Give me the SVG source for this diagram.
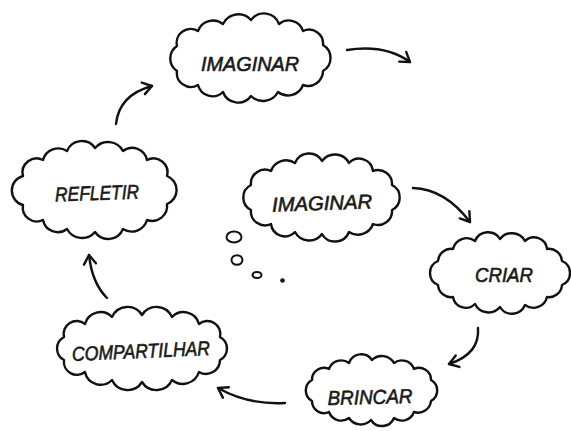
<svg xmlns="http://www.w3.org/2000/svg" width="571" height="431" viewBox="0 0 571 431">
<style>
.cloud{fill:#fff;stroke:#111;stroke-width:2.4;stroke-linejoin:round}
.lbl{font-family:"Liberation Sans",Arial,sans-serif;font-style:italic;font-size:20px;fill:#1a1a1a;stroke:#1a1a1a;stroke-width:0.6;text-anchor:middle}
.conn{fill:none;stroke:#111;stroke-width:2.4;stroke-linecap:round}
.bub{fill:#fff;stroke:#111;stroke-width:2}
</style>
<defs>
<marker id="ah" viewBox="-11 -8 13 16" refX="0" refY="0" markerWidth="13" markerHeight="16" markerUnits="userSpaceOnUse" orient="auto">
<path d="M-9,-6 L0,0 L-9,6" fill="none" stroke="#111" stroke-width="2.4" stroke-linecap="round" stroke-linejoin="round"/>
</marker>
</defs>
<rect width="571" height="431" fill="#fff"/>
<g id="connectors">
<path class="conn" d="M347,50 Q385,44 410,62" marker-end="url(#ah)"/>
<path class="conn" d="M413,188 Q445,189 470,222" marker-end="url(#ah)"/>
<path class="conn" d="M478,328 Q480,354 449,364" marker-end="url(#ah)"/>
<path class="conn" d="M285,403 Q248,405 218,388" marker-end="url(#ah)"/>
<path class="conn" d="M107,298 Q92,283 89,255" marker-end="url(#ah)"/>
<path class="conn" d="M116,124 Q119,95 152,86" marker-end="url(#ah)"/>
</g>
<g id="imaginar-top">
<path class="cloud" d="M323,71 A15,15 0 0 1 303,85 A16,16 0 0 1 278,92 A17,17 0 0 1 251,96 A16,16 0 0 1 223,92 A15,15 0 0 1 198,85 A14,14 0 0 1 177,71 A15,15 0 0 1 177,46 A14,14 0 0 1 198,31 A16,16 0 0 1 223,24 A17,17 0 0 1 251,20 A16,16 0 0 1 279,24 A15,15 0 0 1 303,31 A14,14 0 0 1 323,45 A15,15 0 0 1 323,71 Z"/>
<text class="lbl" x="250" y="71" textLength="98" lengthAdjust="spacingAndGlyphs">IMAGINAR</text>
</g>
<g id="refletir">
<path class="cloud" d="M167,204 A15,15 0 0 1 147,220 A16,16 0 0 1 123,229 A16,16 0 0 1 95,232 A17,17 0 0 1 67,229 A15,15 0 0 1 43,220 A14,14 0 0 1 23,205 A15,15 0 0 1 23,176 A14,14 0 0 1 43,160 A16,16 0 0 1 67,151 A16,16 0 0 1 95,148 A17,17 0 0 1 123,151 A15,15 0 0 1 147,160 A14,14 0 0 1 167,176 A15,15 0 0 1 167,204 Z"/>
<text class="lbl" x="97" y="200" textLength="84" lengthAdjust="spacingAndGlyphs" transform="rotate(-2 97 192)">REFLETIR</text>
</g>
<g id="imaginar-mid">
<path class="cloud" d="M392,210 A14,14 0 0 1 373,224 A16,16 0 0 1 349,232 A15,15 0 0 1 322,234 A16,16 0 0 1 295,232 A14,14 0 0 1 271,224 A14,14 0 0 1 251,210 A14,14 0 0 1 251,185 A14,14 0 0 1 271,171 A16,16 0 0 1 295,163 A15,15 0 0 1 322,161 A16,16 0 0 1 349,163 A14,14 0 0 1 373,171 A14,14 0 0 1 392,185 A14,14 0 0 1 392,210 Z"/>
<text class="lbl" x="322" y="210" textLength="100" lengthAdjust="spacingAndGlyphs" transform="rotate(-2 322 202)">IMAGINAR</text>
</g>
<g id="thought-bubbles">
<ellipse class="bub" cx="234" cy="237" rx="7.5" ry="5.5"/>
<ellipse class="bub" cx="237" cy="260" rx="5.5" ry="4.8"/>
<ellipse class="bub" cx="257" cy="275" rx="4.5" ry="3"/>
<circle cx="282.5" cy="280.5" r="2.3" fill="#111"/>
</g>
<g id="criar">
<path class="cloud" d="M562,285 A13,13 0 0 1 547,297 A14,14 0 0 1 525,305 A14,14 0 0 1 500,307 A15,15 0 0 1 475,304 A13,13 0 0 1 453,297 A13,13 0 0 1 438,285 A13,13 0 0 1 438,261 A13,13 0 0 1 453,249 A14,14 0 0 1 475,241 A14,14 0 0 1 500,239 A15,15 0 0 1 525,241 A13,13 0 0 1 547,249 A13,13 0 0 1 562,261 A13,13 0 0 1 562,285 Z"/>
<text class="lbl" x="504" y="282" textLength="58" lengthAdjust="spacingAndGlyphs">CRIAR</text>
</g>
<g id="compartilhar">
<path class="cloud" d="M220,360 A14,14 0 0 1 199,372 A17,17 0 0 1 172,380 A17,17 0 0 1 142,382 A17,17 0 0 1 112,380 A16,16 0 0 1 85,372 A13,13 0 0 1 64,360 A13,13 0 0 1 64,337 A13,13 0 0 1 85,324 A16,16 0 0 1 112,317 A17,17 0 0 1 142,315 A17,17 0 0 1 172,317 A16,16 0 0 1 199,324 A13,13 0 0 1 220,337 A13,13 0 0 1 220,360 Z"/>
<text class="lbl" x="141" y="358" textLength="138" lengthAdjust="spacingAndGlyphs" transform="rotate(-2.5 141 351)">COMPARTILHAR</text>
</g>
<g id="brincar">
<path class="cloud" d="M431,401 A13,13 0 0 1 414,412 A13,13 0 0 1 394,418 A13,13 0 0 1 371,420 A14,14 0 0 1 349,418 A13,13 0 0 1 329,412 A12,12 0 0 1 312,401 A12,12 0 0 1 312,380 A12,12 0 0 1 329,369 A13,13 0 0 1 349,363 A13,13 0 0 1 372,360 A14,14 0 0 1 394,363 A13,13 0 0 1 414,369 A12,12 0 0 1 431,380 A12,12 0 0 1 431,401 Z"/>
<text class="lbl" x="370" y="404" textLength="85" lengthAdjust="spacingAndGlyphs" transform="rotate(-1.5 370 396)">BRINCAR</text>
</g>
</svg>
